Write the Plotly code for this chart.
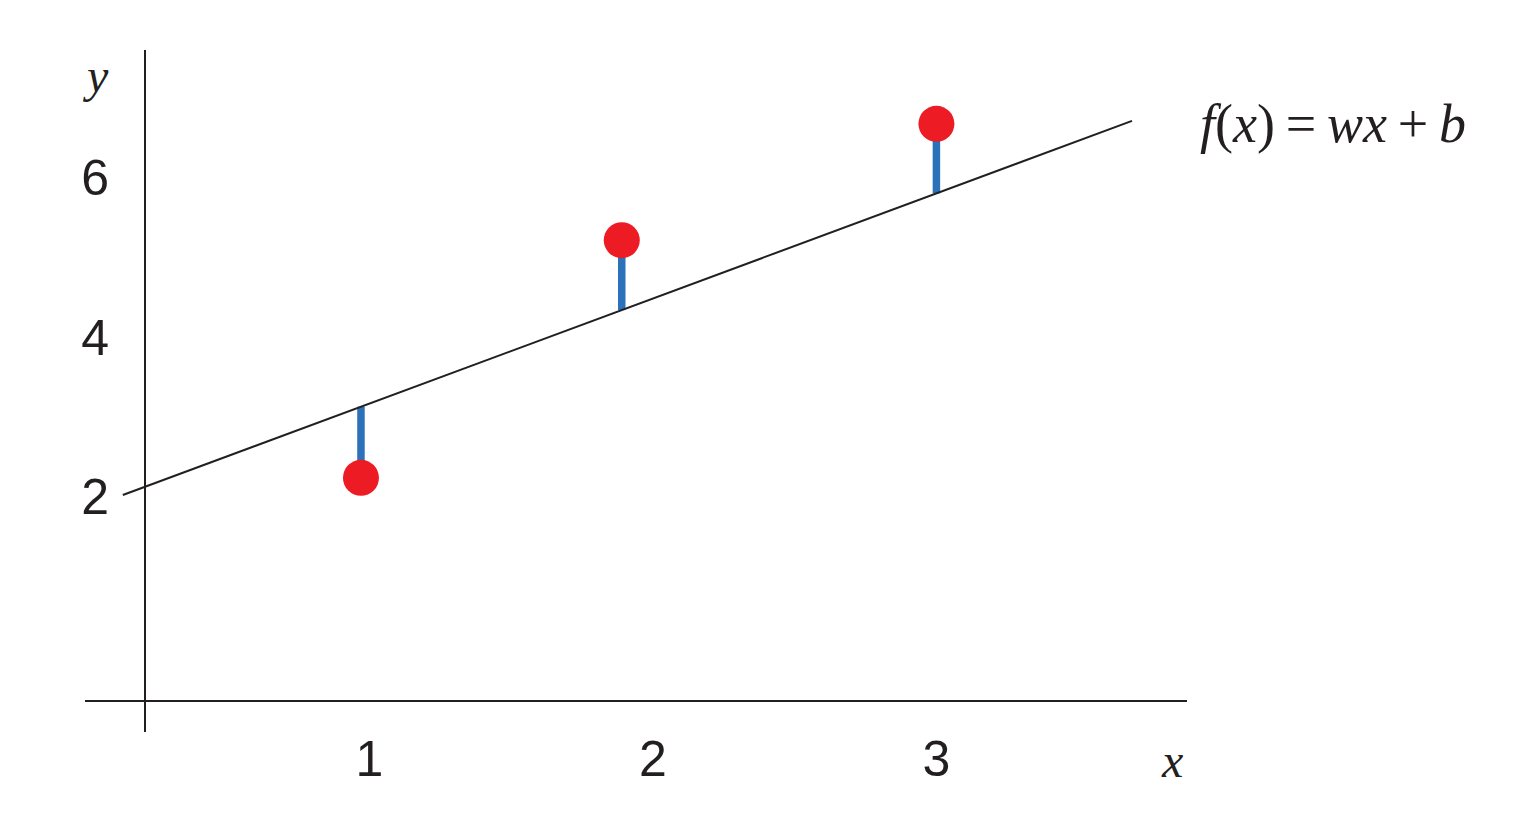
import plotly.graph_objects as go

# observed points
px = [0.97, 1.89, 3.0]
py = [2.24, 5.22, 6.68]

# fitted line f(x) = w x + b
w = 1.318
b = 1.853
line_x = [0.13, 3.69]
line_y = [w * v + b for v in line_x]
fit_at_px = [w * v + b for v in px]

xticks = [1, 2, 3]
yticks = [2, 4, 6]

W, H = 1536, 836
OFF = 8  # page body margin
xrange_ = [-0.0035, 3.884]
yrange_ = [-0.947, 7.605]

fig = go.Figure()

# residual stems
for xi, yi, fi in zip(px, py, fit_at_px):
    fig.add_trace(go.Scatter(x=[xi, xi], y=[fi, yi], mode="lines",
                             line=dict(color="#2B72BA", width=7.5),
                             showlegend=False, hoverinfo="skip"))

fig.add_trace(go.Scatter(x=line_x, y=line_y, mode="lines",
                         line=dict(color="#231F20", width=2),
                         showlegend=False, name="f(x)"))

fig.add_trace(go.Scatter(x=px, y=py, mode="markers",
                         marker=dict(color="#ED1C24", size=36, line=dict(width=0)),
                         showlegend=False, name="data"))

tick_font = dict(family="Liberation Sans, Arial", size=50, color="#231F20")
math_font = dict(family="Liberation Serif, Times New Roman", size=48, color="#231F20")
eq_font = dict(family="Liberation Serif, Times New Roman", size=54, color="#231F20")


def fx(p):
    return (p - OFF) / W


def fy(p):
    return (H - (p - OFF)) / H


fig.update_layout(
    width=W, height=H,
    margin=dict(l=0, r=0, t=0, b=0),
    paper_bgcolor="white", plot_bgcolor="white",
    xaxis=dict(range=xrange_, domain=[fx(85), fx(1187)], anchor="free",
               position=fy(701), showline=True, linecolor="#231F20",
               linewidth=2, showgrid=False, zeroline=False, ticks="",
               tickvals=xticks, tickfont=tick_font, ticklabelstandoff=14),
    yaxis=dict(range=yrange_, domain=[fy(732), fy(50)], anchor="free",
               position=fx(145), showline=True, linecolor="#231F20",
               linewidth=2, showgrid=False, zeroline=False, ticks="",
               tickvals=yticks, tickfont=tick_font, ticklabelstandoff=25),
    annotations=[
        dict(text="<i>y</i>", x=fx(95), y=fy(76), xref="paper", yref="paper",
             showarrow=False, font=math_font, xanchor="center", yanchor="middle"),
        dict(text="<i>x</i>", x=fx(1172), y=fy(760), xref="paper", yref="paper",
             showarrow=False, font=math_font, xanchor="center", yanchor="middle"),
        dict(text="<i>f</i>(<i>x</i>)\u2009=\u2009<i>wx</i>\u2009+\u2009<i>b</i>",
             x=fx(1198), y=fy(124),
             xref="paper", yref="paper", showarrow=False, font=eq_font,
             xanchor="left", yanchor="middle"),
    ],
)

fig.write_html("out.html")
